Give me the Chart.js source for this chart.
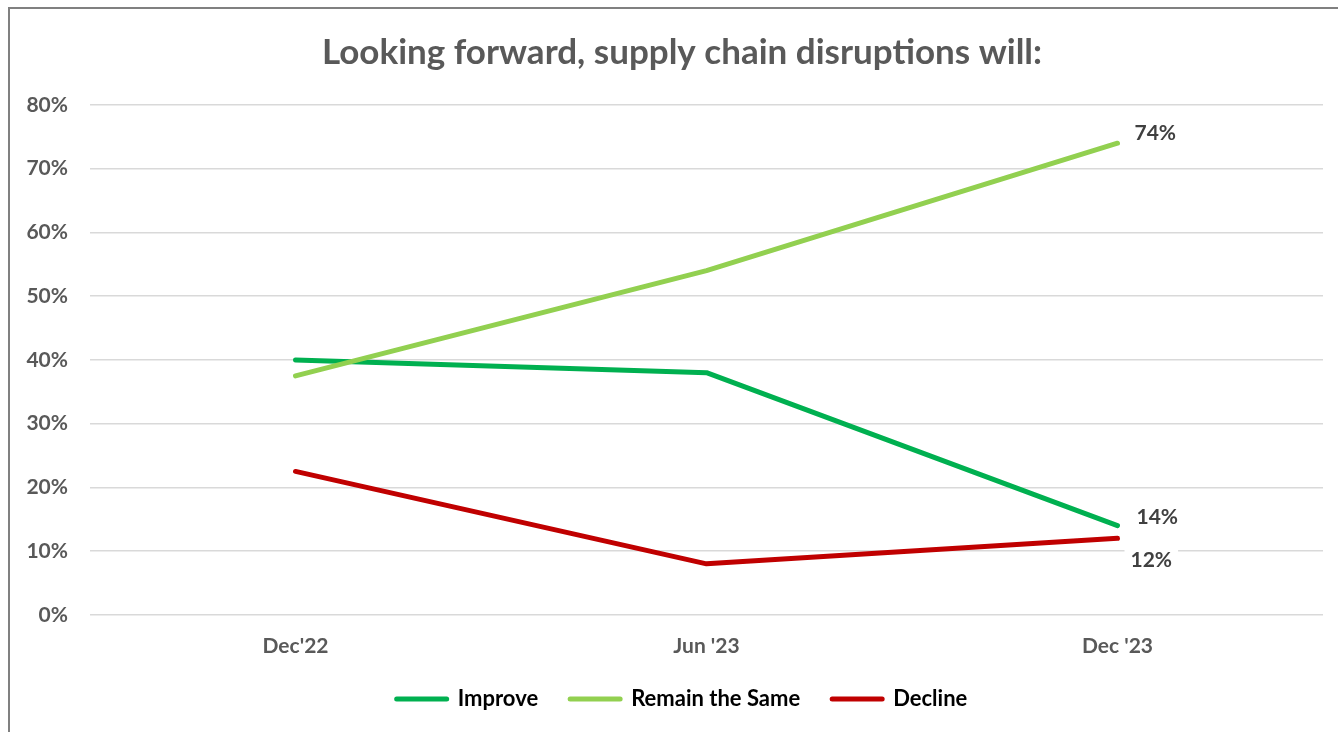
<!DOCTYPE html>
<html>
<head>
<meta charset="utf-8">
<script src="https://cdn.jsdelivr.net/npm/chart.js@4"></script>
<style>
  body { margin: 0; background: #ffffff; overflow: hidden; }
  #box {
    position: absolute; left: 8px; top: 7px;
    width: 1344px; height: 760px;
    border: 2px solid #808080; background: #ffffff;
  }
  #myChart { display: block; }
</style>
</head>
<body>
<div id="box"><canvas id="myChart" width="1344" height="760"></canvas></div>
<script>
const categories = ["Dec'22", "Jun '23", "Dec '23"];
const improve = [40, 38, 14];
const remainSame = [37.5, 54, 74];
const decline = [22.5, 8, 12];
const yTicks = [0, 10, 20, 30, 40, 50, 60, 70, 80];

style = {
  improve: '#00B050',
  remain: '#92D050',
  decline: '#C00000',
  text: '#595959',
  label: '#404040',
  grid: '#D9D9D9',
  font: "Lato, 'Open Sans', sans-serif"
}

Chart.defaults.font.family = style.font;
Chart.defaults.font.weight = 'bold';
Chart.defaults.color = style.text;

// value label at the last point of a series
const endLabels = {
  id: 'endLabels',
  afterDatasetsDraw(chart) {
    const ctx = chart.ctx;
    ctx.save();
    ctx.font = 'bold 21px ' + style.font;
    ctx.textBaseline = 'middle';
    chart.data.datasets.forEach((ds, i) => {
      const meta = chart.getDatasetMeta(i);
      const last = meta.data.length - 1;
      const pt = meta.data[last];
      const txt = ds.data[last] + '%';
      const w = ctx.measureText(txt).width;
      let x = pt.x + 17, y = pt.y - 10;
      if (ds.endLabel === 'below') { x = pt.x + 13; y = pt.y + 22; }
      if (ds.endLabel === 'right-low') { x = pt.x + 19; y = pt.y - 8; }
      ctx.fillStyle = '#ffffff';
      ctx.fillRect(x - 6, y - 12, w + 12, 24);
      ctx.fillStyle = style.label;
      ctx.fillText(txt, x, y);
    });
    ctx.restore();
  }
};

// title and legend are centred on the whole frame, not on the plot,
// and the legend sits a little closer to the axis labels
const frameBoxes = {
  id: 'frameBoxes',
  afterLayout(chart) {
    chart.titleBlock.left += 31;
    chart.legend.left += 31;
    chart.legend.top -= 22;
    chart.legend.bottom -= 22;
  }
};

const data = {
  labels: categories,
  datasets: [{
    label: 'Improve',
    data: improve,
    borderColor: style.improve,
    backgroundColor: style.improve,
    order: 1,
    endLabel: 'right-low'
  }, {
    label: 'Remain the Same',
    data: remainSame,
    borderColor: style.remain,
    backgroundColor: style.remain,
    order: 0,
    endLabel: 'right'
  }, {
    label: 'Decline',
    data: decline,
    borderColor: style.decline,
    backgroundColor: style.decline,
    order: 2,
    endLabel: 'below'
  }]
};

const config = {
  type: 'line',
  data,
  options: {
    responsive: false,
    animation: false,
    layout: { padding: { left: 0, right: 31, top: 0, bottom: 27 } },
    elements: {
      point: { radius: 0 },
      line: { borderWidth: 5, borderCapStyle: 'round', borderJoinStyle: 'round', tension: 0 }
    },
    scales: {
      x: {
        offset: true,
        grid: { display: false, drawTicks: false, offset: true },
        border: { display: false },
        ticks: { padding: 19, font: { size: 21, weight: 'bold' }, color: style.text }
      },
      y: {
        min: 0,
        max: 80,
        afterFit(scale) { scale.width = 80; },
        afterBuildTicks(scale) { scale.ticks = yTicks.map(v => ({ value: v })); },
        grid: { color: style.grid, lineWidth: 1.5, drawTicks: false },
        border: { display: false },
        ticks: {
          padding: 22,
          font: { size: 21, weight: 'bold' },
          color: style.text,
          callback: v => v + '%'
        }
      }
    },
    plugins: {
      title: {
        display: true,
        text: 'Looking forward, supply chain disruptions will:',
        color: style.text,
        font: { size: 35, weight: 'bold' },
        padding: { top: 23, bottom: 31 }
      },
      legend: {
        position: 'bottom',
        labels: {
          boxWidth: 50,
          boxHeight: 0,
          padding: 32,
          color: style.text,
          font: { size: 22, weight: 'bold' },
          generateLabels(chart) {
            return chart.data.datasets.map((ds, i) => ({
              text: ds.label,
              fillStyle: ds.borderColor,
              strokeStyle: ds.borderColor,
              lineWidth: 5,
              lineCap: 'round',
              lineJoin: 'round',
              hidden: false,
              datasetIndex: i
            }));
          }
        }
      },
      tooltip: { enabled: false }
    }
  },
  plugins: [endLabels, frameBoxes]
};

// create graph
var myChart = new Chart(document.getElementById('myChart'), config);
</script>
</body>
</html>
